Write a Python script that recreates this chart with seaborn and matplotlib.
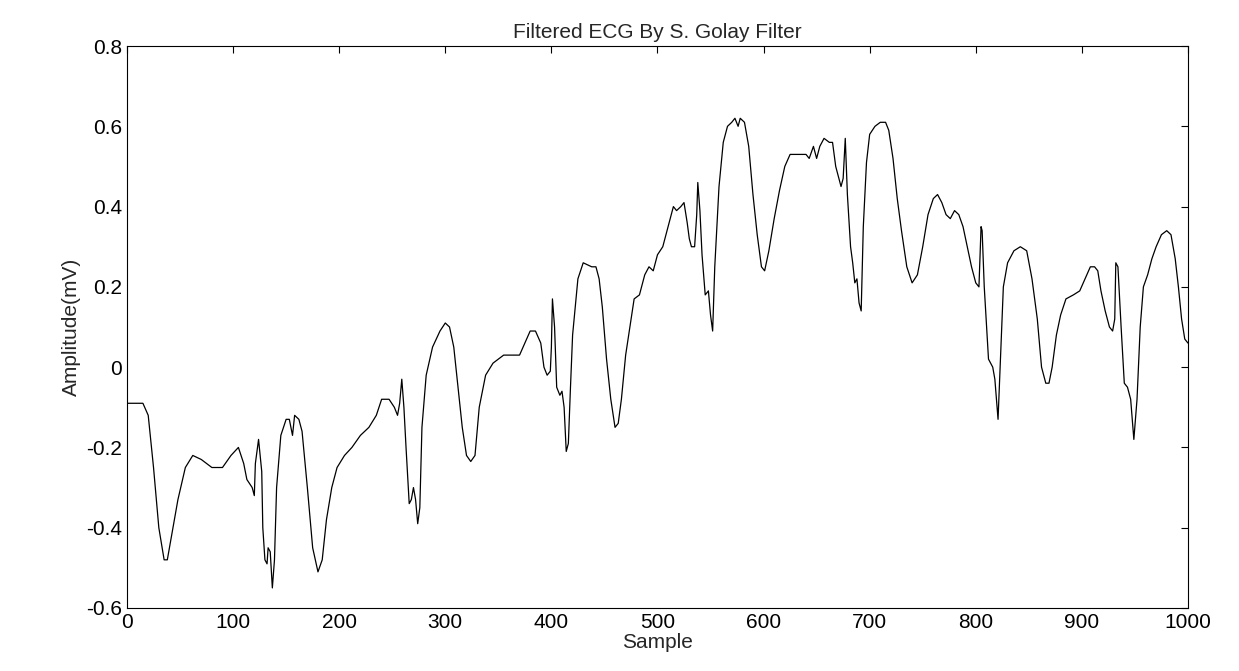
import matplotlib
matplotlib.use("Agg")
import matplotlib.pyplot as plt
import seaborn as sns
import pandas as pd

sample = [0,15,20,25,30,35,38,42,48,55,62,70,80,90,98,105,110,113,118,120,121,124,127,128,130,132,133,135,137,139,141,145,150,153,156,158,162,165,170,175,180,184,188,193,198,205,212,220,228,235,240,247,252,255,257,259,261,263,266,268,270,272,274,276,278,282,288,295,300,304,308,312,316,320,324,328,332,338,345,355,362,370,375,380,385,390,393,396,399,400,401,403,405,408,410,412,414,416,418,420,425,430,438,442,445,448,452,456,460,463,466,470,474,478,483,488,492,496,500,505,510,515,518,522,525,528,530,532,535,537,538,540,542,545,548,550,552,554,558,562,566,570,573,576,578,582,586,590,594,598,601,605,610,615,620,625,630,635,640,643,647,650,653,657,662,665,668,670,673,675,677,679,682,684,686,688,690,692,694,697,700,705,710,715,718,722,726,730,735,740,745,750,755,760,764,768,772,776,780,784,788,792,796,800,803,805,806,808,812,816,818,821,823,826,830,836,842,848,853,858,862,866,869,872,876,880,885,892,898,903,908,912,915,918,922,926,929,931,932,934,937,940,943,946,949,952,955,958,962,966,970,975,980,984,988,991,994,997,1000]
amplitude = [-0.09,-0.09,-0.12,-0.25,-0.40,-0.48,-0.48,-0.42,-0.33,-0.25,-0.22,-0.23,-0.25,-0.25,-0.22,-0.20,-0.24,-0.28,-0.30,-0.32,-0.24,-0.18,-0.26,-0.40,-0.48,-0.49,-0.45,-0.46,-0.55,-0.48,-0.30,-0.17,-0.13,-0.13,-0.17,-0.12,-0.13,-0.16,-0.30,-0.45,-0.51,-0.48,-0.38,-0.30,-0.25,-0.22,-0.20,-0.17,-0.15,-0.12,-0.08,-0.08,-0.10,-0.12,-0.09,-0.03,-0.10,-0.20,-0.34,-0.33,-0.30,-0.33,-0.39,-0.35,-0.15,-0.02,0.05,0.09,0.11,0.10,0.05,-0.05,-0.15,-0.22,-0.235,-0.22,-0.10,-0.02,0.01,0.03,0.03,0.03,0.06,0.09,0.09,0.06,0.0,-0.02,-0.01,0.05,0.17,0.10,-0.05,-0.07,-0.06,-0.10,-0.21,-0.19,-0.05,0.08,0.22,0.26,0.25,0.25,0.22,0.15,0.02,-0.08,-0.15,-0.14,-0.08,0.03,0.10,0.17,0.18,0.23,0.25,0.24,0.28,0.30,0.35,0.40,0.39,0.40,0.41,0.36,0.32,0.30,0.30,0.38,0.46,0.39,0.28,0.18,0.19,0.13,0.09,0.25,0.45,0.56,0.60,0.61,0.62,0.60,0.62,0.61,0.55,0.43,0.33,0.25,0.24,0.29,0.37,0.44,0.50,0.53,0.53,0.53,0.53,0.52,0.55,0.52,0.55,0.57,0.56,0.56,0.50,0.48,0.45,0.47,0.57,0.43,0.30,0.26,0.21,0.22,0.16,0.14,0.35,0.51,0.58,0.60,0.61,0.61,0.59,0.52,0.42,0.34,0.25,0.21,0.23,0.30,0.38,0.42,0.43,0.41,0.38,0.37,0.39,0.38,0.35,0.30,0.25,0.21,0.20,0.35,0.34,0.20,0.02,0.0,-0.03,-0.13,0.0,0.20,0.26,0.29,0.30,0.29,0.22,0.12,0.0,-0.04,-0.04,0.0,0.08,0.13,0.17,0.18,0.19,0.22,0.25,0.25,0.24,0.19,0.14,0.10,0.09,0.12,0.26,0.25,0.10,-0.04,-0.05,-0.08,-0.18,-0.08,0.10,0.20,0.23,0.27,0.30,0.33,0.34,0.33,0.27,0.20,0.12,0.07,0.06]

xticks = [0,100,200,300,400,500,600,700,800,900,1000]
yticks = [-0.6,-0.4,-0.2,0,0.2,0.4,0.6,0.8]
ytick_labels = ["-0.6","-0.4","-0.2","0","0.2","0.4","0.6","0.8"]

sns.set_style("white")
plt.rcParams['font.family'] = ['Liberation Sans', 'DejaVu Sans']

df = pd.DataFrame({"Sample": sample, "Amplitude": amplitude})
fig = plt.figure(figsize=(12.39, 6.71), dpi=100)
ax = fig.add_axes([0.1025, 0.0939, 0.8563, 0.8375])
sns.lineplot(data=df, x="Sample", y="Amplitude", ax=ax, color="black", linewidth=0.9, estimator=None, sort=False)
ax.set_xlim(0, 1000)
ax.set_ylim(-0.6, 0.8)
ax.set_xticks(xticks)
ax.set_yticks(yticks)
ax.set_yticklabels(ytick_labels)
ax.tick_params(direction="in", top=True, right=True, length=5, labelsize=15, width=0.8, colors="black")
for s in ax.spines.values():
    s.set_color("black"); s.set_linewidth(0.8)
ax.set_xlabel("Sample", fontsize=15, labelpad=1)
ax.set_ylabel("Amplitude(mV)", fontsize=15, labelpad=4)
ax.set_title("Filtered ECG By S. Golay Filter", fontsize=15, pad=6)
fig.savefig("out.png", dpi=100, facecolor="white")
